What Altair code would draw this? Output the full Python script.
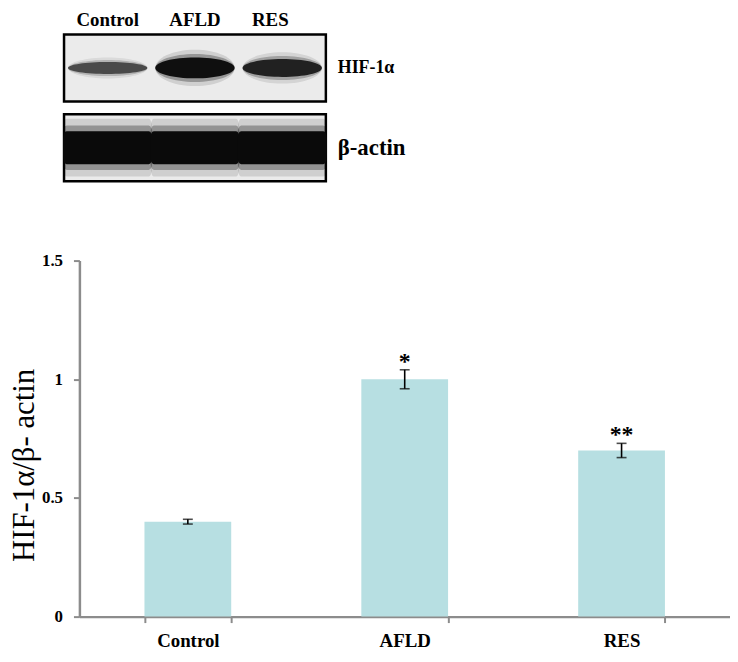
import altair as alt
import pandas as pd

# ---------------- data ----------------
groups = ["Control", "AFLD", "RES"]
ratio_mean = [0.40, 1.00, 0.70]
ratio_err = [0.01, 0.04, 0.03]
significance = ["", "*", "**"]
y_ticks = [0, 0.5, 1, 1.5]

blot_rows = ["HIF-1α", "β-actin"]
hif_intensity = [0.62, 0.97, 0.85]
hif_thickness = [0.50, 0.87, 0.75]
actin_intensity = [1.0, 1.0, 1.0]
actin_thickness = [1.0, 1.0, 1.0]

SERIF = "Liberation Serif"
AXIS_GREY = "#8c8c8c"

# soft-edge tiers for the blot bands: (thickness factor, opacity factor)
TIERS = [(1.75, 0.12), (1.35, 0.30), (1.0, 1.0)]


def ellipse(h):
    return f"M -1 0 A 1 {h:.3f} 0 0 1 1 0 A 1 {h:.3f} 0 0 1 -1 0 Z"


def rrect(h, rx=0.08):
    ry = h * 0.6
    return (f"M {-1+rx} {-h:.3f} L {1-rx} {-h:.3f} Q 1 {-h:.3f} 1 {-h+ry:.3f} L 1 {h-ry:.3f} "
            f"Q 1 {h:.3f} {1-rx} {h:.3f} L {-1+rx} {h:.3f} Q -1 {h:.3f} -1 {h-ry:.3f} "
            f"L -1 {-h+ry:.3f} Q -1 {-h:.3f} {-1+rx} {-h:.3f} Z")


def band_frame(row, intensity, thickness, shape_fn, base_h, tf, of):
    return pd.DataFrame({
        "lane": groups,
        "row": row,
        "op": [min(1.0, v * of) for v in intensity],
        "path": [shape_fn(base_h * t * tf) for t in thickness],
    })


box_df = pd.DataFrame({"row": blot_rows, "first": groups[0], "last": groups[-1]})

bar_df = pd.DataFrame({
    "group": groups,
    "mean": ratio_mean,
    "lo": [m - e for m, e in zip(ratio_mean, ratio_err)],
    "hi": [m + e for m, e in zip(ratio_mean, ratio_err)],
    "sig": significance,
})

# ---------------- blot panel ----------------
row_scale = alt.Scale(domain=blot_rows, paddingInner=0.16, paddingOuter=0)
lane_scale = alt.Scale(domain=groups, paddingInner=0, paddingOuter=0, range=[-15.5, 248.5])

top_axis = alt.Axis(
    orient="top", title=None, domain=False, ticks=False, tickSize=0,
    labelAngle=0, labelFont=SERIF, labelFontSize=19, labelFontWeight="bold",
    labelColor="black", labelPadding=5,
    labelOffset={"condition": {"test": "datum.value === 'RES'", "value": -12}, "value": 0},
)
xlane = alt.X("lane:N", sort=groups, scale=lane_scale, axis=top_axis)

right_axis = alt.Axis(
    orient="right", title=None, domain=False, ticks=False, tickSize=0,
    labelFont=SERIF, labelColor="black", labelFontWeight="bold", labelPadding=11,
    labelFontSize={"condition": {"test": "datum.value === 'β-actin'", "value": 23}, "value": 18},
)

box = alt.Chart(box_df).mark_rect(fill="#ebebeb", stroke="black", strokeWidth=2.5).encode(
    y=alt.Y("row:N", scale=row_scale, axis=right_axis),
    x=alt.X("first:N", sort=groups, scale=lane_scale, axis=top_axis, bandPosition=0),
    x2=alt.X2("last:N", bandPosition=1),
)

band_layers = []
for tf, of in TIERS:
    for row, inten, thick, fn, bh, w in [
        (blot_rows[0], hif_intensity, hif_thickness, ellipse, 0.30, 80),
        (blot_rows[1], actin_intensity, actin_thickness, rrect, 0.37, 90),
    ]:
        df = band_frame(row, inten, thick, fn, bh, tf, of)
        band_layers.append(
            alt.Chart(df).mark_point(filled=True, color="#0a0a0a", strokeWidth=0,
                                     size=w ** 2).encode(
                x=xlane,
                y=alt.Y("row:N", scale=row_scale, axis=None),
                shape=alt.Shape("path:N", scale=None, legend=None),
                opacity=alt.Opacity("op:Q", scale=None, legend=None),
            )
        )

blot = alt.layer(box, *band_layers).resolve_axis(y="independent").properties(
    width=249, height=148)

# ---------------- bar chart ----------------
x_axis = alt.Axis(
    title=None, labelAngle=0, tickBand="extent", labelFont=SERIF, labelFontSize=19,
    labelFontWeight="bold", labelColor="black", labelPadding=9, tickSize=6,
    tickColor=AXIS_GREY, tickWidth=2, domainColor=AXIS_GREY, domainWidth=2.5, grid=False,
)
y_axis = alt.Axis(
    title="HIF-1α/β- actin", values=y_ticks, format="~g", labelFont=SERIF,
    labelFontSize=17, labelFontWeight="bold", labelColor="black", labelPadding=11,
    tickSize=6, tickColor=AXIS_GREY, tickWidth=2, domainColor=AXIS_GREY, domainWidth=2.5,
    titleFont=SERIF, titleFontSize=31, titleFontWeight="normal", titleColor="black",
    titlePadding=1, titleY=206, grid=False,
)
xg = alt.X("group:N", sort=groups,
           scale=alt.Scale(domain=groups, paddingInner=0.6, paddingOuter=0.3), axis=x_axis)
yscale = alt.Scale(domain=[0, 1.5], nice=False)

base = alt.Chart(bar_df)
bars = base.mark_bar(color="#b7dfe2").encode(
    x=xg, y=alt.Y("mean:Q", scale=yscale, axis=y_axis))
err_rule = base.mark_rule(color="black", strokeWidth=1.6).encode(
    x=xg, y=alt.Y("lo:Q", scale=yscale, axis=y_axis), y2="hi:Q")
cap_lo = base.mark_tick(color="black", size=10, thickness=1.6).encode(
    x=xg, y=alt.Y("lo:Q", scale=yscale, axis=y_axis))
cap_hi = base.mark_tick(color="black", size=10, thickness=1.6).encode(
    x=xg, y=alt.Y("hi:Q", scale=yscale, axis=y_axis))
stars = base.mark_text(font=SERIF, fontSize=24, fontWeight="bold", color="black",
                       baseline="alphabetic", dy=-1).encode(
    x=xg, y=alt.Y("hi:Q", scale=yscale, axis=y_axis), text="sig:N")

bar_chart = alt.layer(bars, err_rule, cap_lo, cap_hi, stars).properties(width=656, height=359)

chart = alt.vconcat(blot, bar_chart, spacing=69).properties(
    padding=0).configure_view(stroke=None).configure_axis(grid=False)

chart.save("out.html", embed_options={"renderer": "svg", "actions": False})
